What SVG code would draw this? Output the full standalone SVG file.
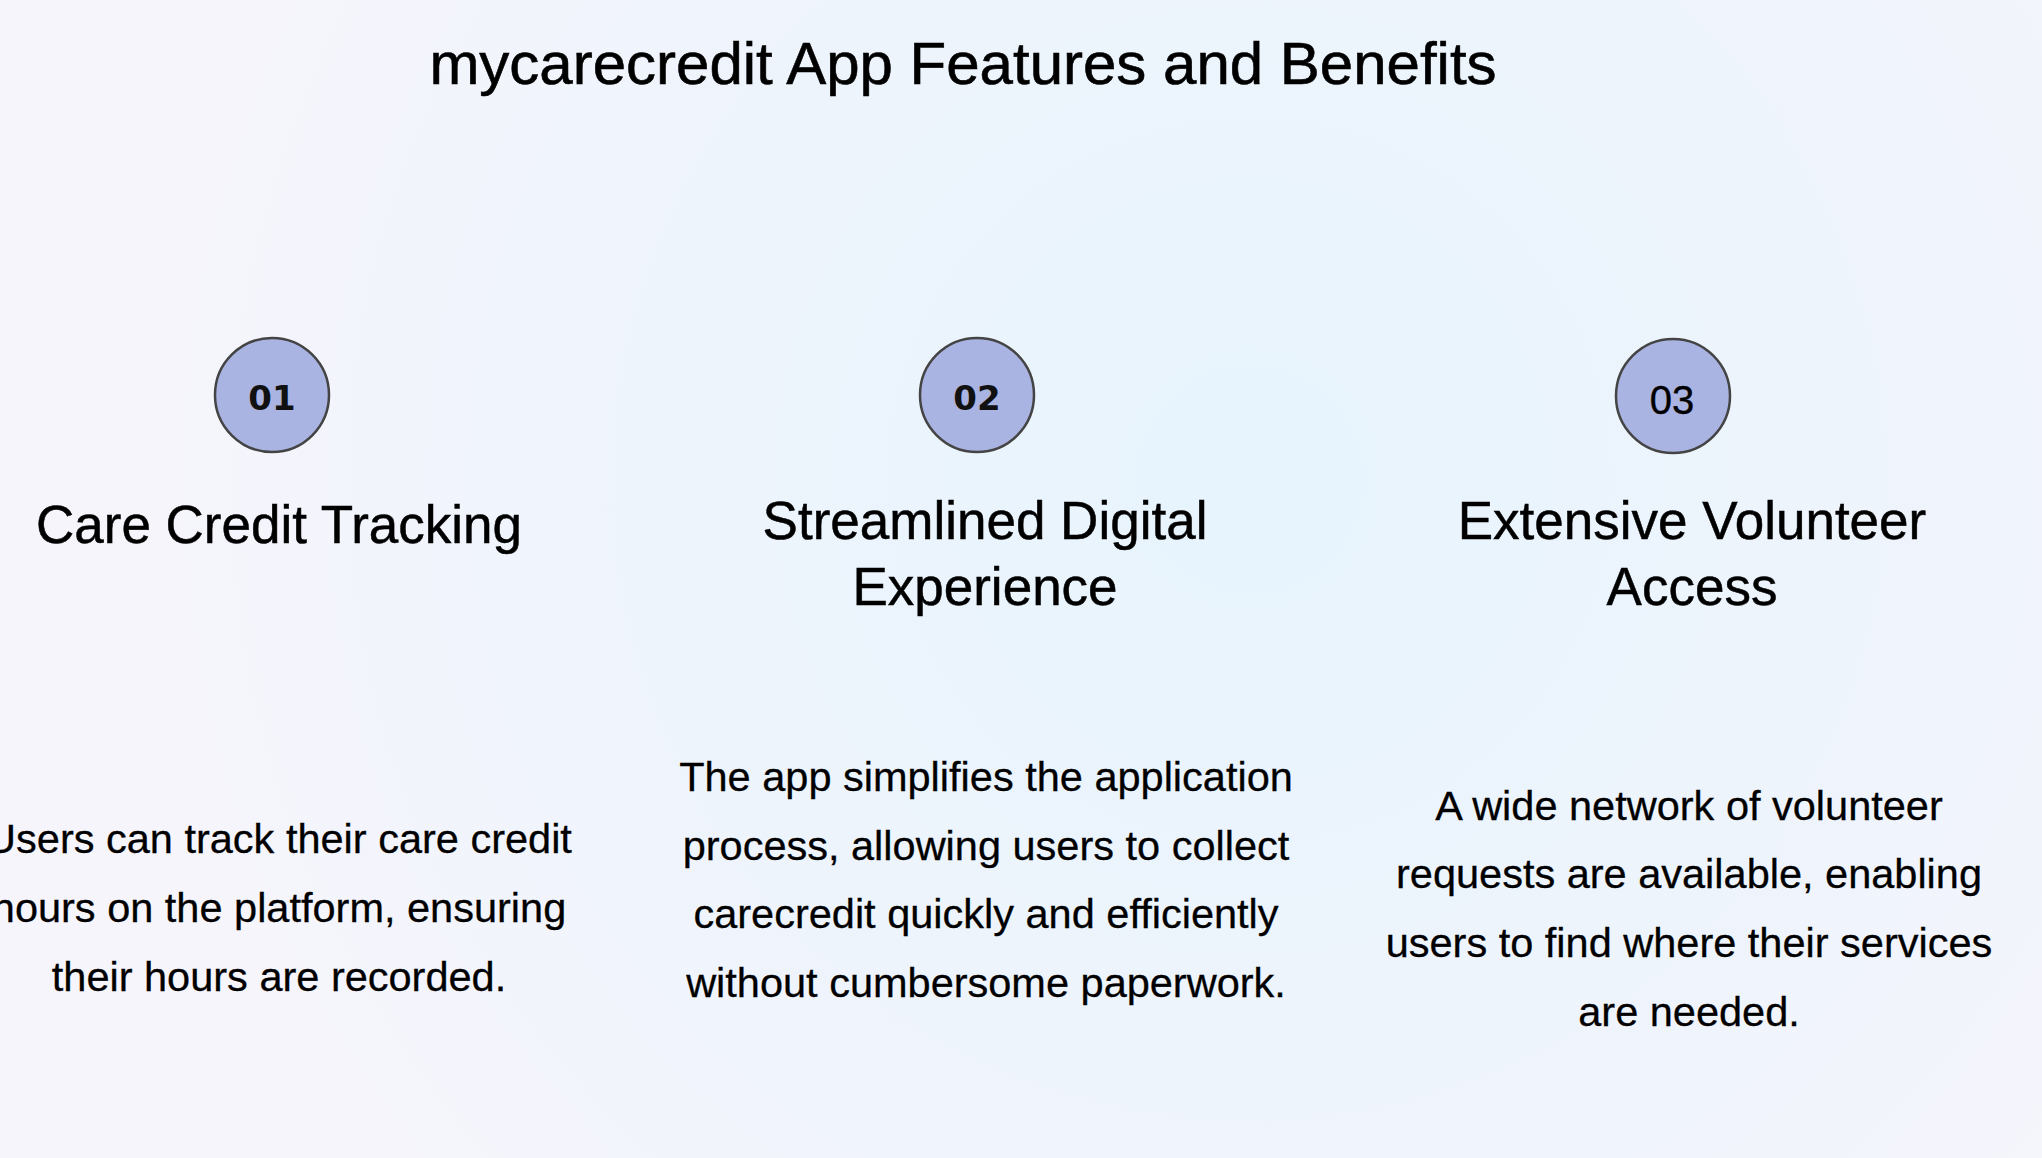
<svg xmlns="http://www.w3.org/2000/svg" width="2042" height="1158" viewBox="0 0 2042 1158">
  <defs>
    <radialGradient id="bg" cx="1250" cy="480" r="1100" gradientUnits="userSpaceOnUse">
      <stop offset="0" stop-color="#e7f4fd"/>
      <stop offset="0.55" stop-color="#eef4fc"/>
      <stop offset="1" stop-color="#f6f5fc"/>
    </radialGradient>
  </defs>
  <style>
    .title { font-family: "Liberation Sans", Arial, sans-serif; font-size: 60px; fill: #000; stroke: #000; stroke-width: 0.6; text-anchor: middle; }
    .head { font-family: "Liberation Sans", Arial, sans-serif; font-size: 53px; fill: #000; stroke: #000; stroke-width: 0.5; text-anchor: middle; }
    .body { font-family: "Liberation Sans", Arial, sans-serif; font-size: 41.5px; fill: #000; stroke: #000; stroke-width: 0.3; text-anchor: middle; }
    .badge { fill: #aab4e3; stroke: #444444; stroke-width: 2.5; }
    .num { font-family: "DejaVu Sans", Verdana, sans-serif; font-size: 34px; font-weight: bold; fill: #111; text-anchor: middle; }
    .num3 { font-family: "Liberation Sans", Arial, sans-serif; font-size: 40px; fill: #000; stroke: #000; stroke-width: 0.4; text-anchor: middle; }
  </style>
  <rect x="0" y="0" width="2042" height="1158" fill="url(#bg)"/>
  <text class="title" x="963" y="84">mycarecredit App Features and Benefits</text>

  <g id="connectors"></g>

  <g id="feature1">
    <circle class="badge" cx="272" cy="395" r="57"/>
    <text class="num" x="272" y="410">01</text>
    <text class="head" x="279" y="543">Care Credit Tracking</text>
    <text class="body" x="279" y="853">Users can track their care credit</text>
    <text class="body" x="279" y="922">hours on the platform, ensuring</text>
    <text class="body" x="279" y="991">their hours are recorded.</text>
  </g>

  <g id="feature2">
    <circle class="badge" cx="977" cy="395" r="57"/>
    <text class="num" x="977" y="410">02</text>
    <text class="head" x="985" y="539">Streamlined Digital</text>
    <text class="head" x="985" y="605">Experience</text>
    <text class="body" x="986" y="791">The app simplifies the application</text>
    <text class="body" x="986" y="860">process, allowing users to collect</text>
    <text class="body" x="986" y="928">carecredit quickly and efficiently</text>
    <text class="body" x="986" y="997">without cumbersome paperwork.</text>
  </g>

  <g id="feature3">
    <circle class="badge" cx="1673" cy="396" r="57"/>
    <text class="num3" x="1672" y="414">03</text>
    <text class="head" x="1692" y="539">Extensive Volunteer</text>
    <text class="head" x="1692" y="605">Access</text>
    <text class="body" x="1689" y="820">A wide network of volunteer</text>
    <text class="body" x="1689" y="888">requests are available, enabling</text>
    <text class="body" x="1689" y="957">users to find where their services</text>
    <text class="body" x="1689" y="1026">are needed.</text>
  </g>
</svg>
